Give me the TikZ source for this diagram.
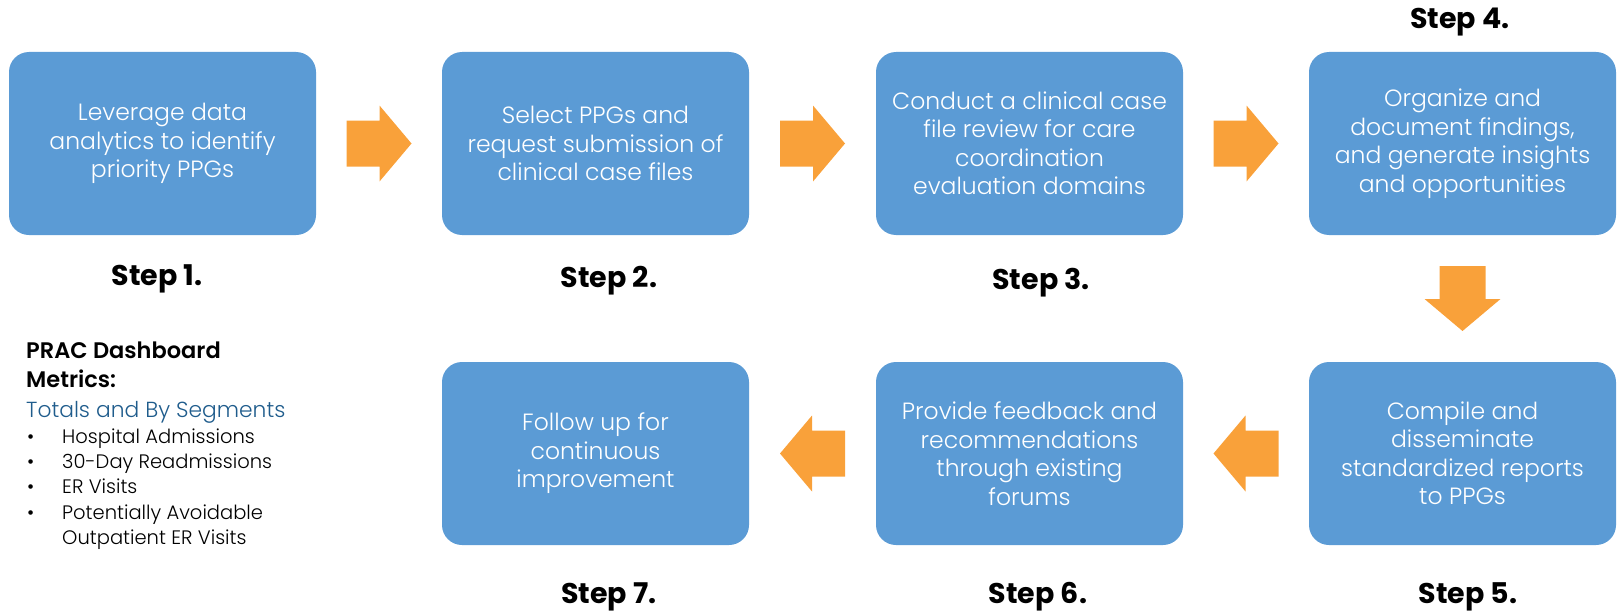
\documentclass[tikz,border=0pt]{standalone}
\usepackage{fontspec}
\setmainfont{Poppins}[UprightFont={* Light}, BoldFont={* SemiBold}]
\newfontfamily\heavyfont{Poppins Bold}
\usetikzlibrary{calc}
\definecolor{boxblue}{HTML}{5B9BD5}
\definecolor{arroworange}{HTML}{F9A13A}
\definecolor{subblue}{HTML}{1F5C8C}

\begin{document}
\begin{tikzpicture}[x=1pt,y=-1pt,
  stepbox/.style={fill=boxblue, rounded corners=20pt, minimum width=307pt,
    minimum height=183pt, inner sep=0pt, align=center, text=white,
    font=\fontsize{23.5}{28.5}\selectfont},
  steplabel/.style={font=\heavyfont\fontsize{28.5}{30}\selectfont, anchor=base},
  legendhead/.style={font=\bfseries\fontsize{22.5}{29}\selectfont, anchor=base west, inner sep=0pt},
  legendsub/.style={font=\fontsize{21.8}{29}\selectfont, text=subblue, anchor=base west, inner sep=0pt},
  legenditem/.style={font=\fontsize{19.5}{25}\selectfont, anchor=base west, inner sep=0pt},
  blockarrow/.pic={\fill[arroworange] (-32.5,-23) -- (0.5,-23) -- (0.5,-38) -- (32.5,0)
    -- (0.5,38) -- (0.5,23) -- (-32.5,23) -- cycle;}
]
\useasboundingbox (0,0) rectangle (1621,610);

% top row
\node[stepbox] (b1) at (162.5,143.5) {Leverage data\\analytics to identify\\priority PPGs};
\node[stepbox] (b2) at (595.5,143.5) {Select PPGs and\\request submission of\\clinical case files};
\node[stepbox] (b3) at (1029.5,143.5) {Conduct a clinical case\\file review for care\\coordination\\evaluation domains};
\node[stepbox] (b4) at (1462.5,143.5) {Organize and\\document findings,\\and generate insights\\and opportunities};

% bottom row
\node[stepbox] (b5) at (1462.5,453.5) {Compile and\\disseminate\\standardized reports\\to PPGs};
\node[stepbox] (b6) at (1029.5,453.5) {Provide feedback and\\recommendations\\through existing\\forums};
\node[stepbox] (b7) at (595.5,453.5) {Follow up for\\continuous\\improvement};

% block arrows between the steps
\pic at ($(b1.east)!0.5!(b2.west)$) {blockarrow};
\pic at ($(b2.east)!0.5!(b3.west)$) {blockarrow};
\pic at ($(b3.east)!0.5!(b4.west)$) {blockarrow};
\pic[rotate=-90] at ($(b4.south)!0.5!(b5.north)$) {blockarrow};
\pic[rotate=180] at ($(b5.west)!0.5!(b6.east)$) {blockarrow};
\pic[rotate=180] at ($(b6.west)!0.5!(b7.east)$) {blockarrow};

% step labels
\node[steplabel] (s1) at (157,285) {Step 1.};
\node[steplabel] (s2) at (609,287) {Step 2.};
\node[steplabel] (s3) at (1041,289) {Step 3.};
\node[steplabel] (s4) at (1460,29) {Step 4.};
\node[steplabel] (s5) at (1468,603) {Step 5.};
\node[steplabel] (s6) at (1038,603) {Step 6.};
\node[steplabel] (s7) at (609,603) {Step 7.};

% dashboard metrics legend
\node[legendhead] (lh1) at (26,358) {PRAC Dashboard};
\node[legendhead] (lh2) at (26,387) {Metrics:};
\node[legendsub] (ls) at (26,417) {Totals and By Segments};
\node[legenditem] (d1) at (27,443) {\textbullet};
\node[legenditem] (i1) at (62,443) {Hospital Admissions};
\node[legenditem] (d2) at (27,468) {\textbullet};
\node[legenditem] (i2) at (62,468) {30-Day Readmissions};
\node[legenditem] (d3) at (27,493) {\textbullet};
\node[legenditem] (i3) at (62,493) {ER Visits};
\node[legenditem] (d4) at (27,519) {\textbullet};
\node[legenditem] (i4) at (62,519) {Potentially Avoidable};
\node[legenditem] (i5) at (62,544) {Outpatient ER Visits};
\end{tikzpicture}
\end{document}
